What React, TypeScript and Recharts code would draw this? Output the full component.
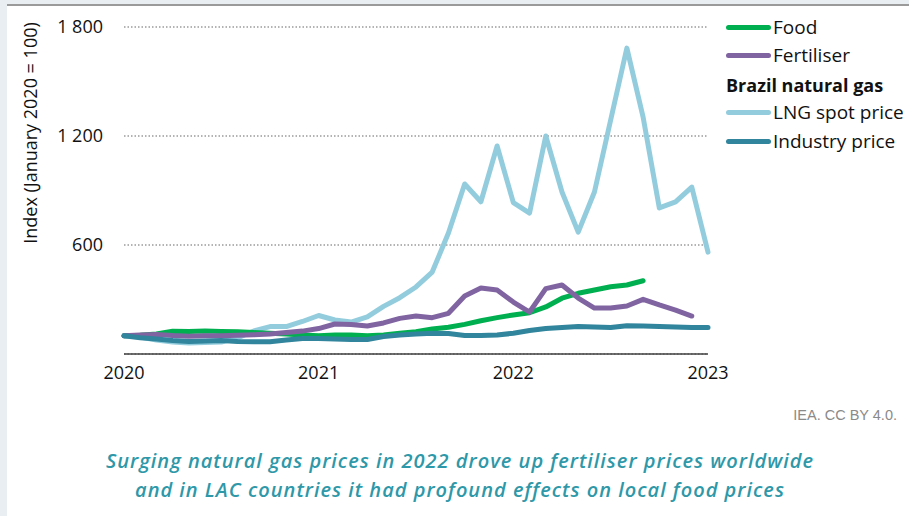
import { LineChart, Line, XAxis, YAxis, CartesianGrid } from 'recharts';

// Monthly index values, January 2020 = 100
const months = [
  '2020-01', '2020-02', '2020-03', '2020-04', '2020-05', '2020-06', '2020-07', '2020-08', '2020-09', '2020-10', '2020-11', '2020-12',
  '2021-01', '2021-02', '2021-03', '2021-04', '2021-05', '2021-06', '2021-07', '2021-08', '2021-09', '2021-10', '2021-11', '2021-12',
  '2022-01', '2022-02', '2022-03', '2022-04', '2022-05', '2022-06', '2022-07', '2022-08', '2022-09', '2022-10', '2022-11', '2022-12',
  '2023-01',
];

const lngSpot = [100, 94, 77, 66, 60, 63, 66, 88, 127, 151, 151, 179, 212, 187, 176, 204, 262, 310, 369, 451, 666, 936, 838, 1145, 833, 776, 1200, 892, 671, 892, 1288, 1684, 1304, 804, 837, 919, 561];
const food = [100, 103, 110, 125, 124, 126, 124, 122, 118, 114, 110, 104, 100, 104, 105, 100, 105, 114, 123, 138, 147, 163, 183, 200, 215, 227, 259, 307, 334, 352, 370, 380, 403, null, null, null, null];
const fertiliser = [100, 105, 108, 102, 98, 100, 101, 103, 106, 110, 118, 126, 140, 165, 162, 154, 171, 196, 209, 200, 224, 319, 363, 352, 286, 231, 360, 380, 308, 253, 253, 264, 301, 270, 242, 209, null];
const industry = [100, 90, 82, 74, 69, 72, 74, 69, 68, 68, 77, 85, 85, 83, 80, 80, 96, 105, 110, 114, 113, 102, 102, 105, 114, 129, 140, 146, 151, 149, 146, 156, 154, 151, 149, 146, 146];

const yTicks = [600, 1200, 1800];
const xTicks = ['2020-01', '2021-01', '2022-01', '2023-01'];

const colors = {
  food: '#00b050',
  fertiliser: '#8064a2',
  lng: '#93cddd',
  industry: '#31859c',
};

const data = months.map((m, i) => ({
  month: m,
  lng: lngSpot[i],
  food: food[i],
  fertiliser: fertiliser[i],
  industry: industry[i],
}));

const font = '"Open Sans", sans-serif';

function LegendRow({ color, label, top }: { color: string; label: string; top: number }) {
  return (
    <div style={{ position: 'absolute', left: 726, top, display: 'flex', alignItems: 'center', height: 24 }}>
      <div style={{ width: 45, height: 5, borderRadius: 3, background: color }} />
      <span style={{ marginLeft: 2, fontSize: 19, color: '#111' }}>{label}</span>
    </div>
  );
}

export default function App() {
  return (
    <div style={{ position: 'absolute', left: 0, top: 0, width: 909, height: 516, background: '#fff', fontFamily: font, overflow: 'hidden' }}>
      <div style={{ position: 'absolute', left: 0, top: 0, width: 909, height: 4, background: '#e9eef3' }} />
      <div style={{ position: 'absolute', left: 7, top: 4, width: 902, height: 2, background: '#9a9a9a' }} />
      <div style={{ position: 'absolute', left: 0, top: 0, width: 7, height: 516, background: '#e9eef3' }} />

      <div style={{ position: 'absolute', left: 0, top: 0 }}>
        <LineChart width={909} height={400} data={data} margin={{ top: 27, right: 201, left: 0, bottom: 16 }}>
          <CartesianGrid vertical={false} stroke="#9a9a9a" strokeWidth={1.5} strokeDasharray="1.5 2" />
          <XAxis
            dataKey="month"
            ticks={xTicks}
            interval={0}
            tickFormatter={(v: string) => v.slice(0, 4)}
            tickLine={false}
            tickSize={0}
            tickMargin={12}
            height={30}
            axisLine={{ stroke: '#404040', strokeWidth: 1.5 }}
            tick={{ fontSize: 18, fill: '#111', fontFamily: font }}
          />
          <YAxis
            domain={[0, 1800]}
            ticks={yTicks}
            width={124}
            tickFormatter={(v: number) => v.toLocaleString('en-US').replace(',', ' ')}
            axisLine={false}
            tickLine={false}
            tickSize={0}
            tickMargin={21}
            tick={{ fontSize: 18, fill: '#111', fontFamily: font }}
          />
          <Line type="linear" dataKey="lng" stroke={colors.lng} strokeWidth={5} dot={false} strokeLinejoin="round" strokeLinecap="round" isAnimationActive={false} />
          <Line type="linear" dataKey="food" stroke={colors.food} strokeWidth={5} dot={false} strokeLinejoin="round" strokeLinecap="round" isAnimationActive={false} />
          <Line type="linear" dataKey="fertiliser" stroke={colors.fertiliser} strokeWidth={5} dot={false} strokeLinejoin="round" strokeLinecap="round" isAnimationActive={false} />
          <Line type="linear" dataKey="industry" stroke={colors.industry} strokeWidth={5} dot={false} strokeLinejoin="round" strokeLinecap="round" isAnimationActive={false} />
        </LineChart>
      </div>

      <div
        style={{
          position: 'absolute', left: 30, top: 133, transform: 'translate(-50%, -50%) rotate(-90deg)',
          whiteSpace: 'nowrap', fontSize: 18, color: '#111',
        }}
      >
        Index (January 2020 = 100)
      </div>

      <LegendRow color={colors.food} label="Food" top={15} />
      <LegendRow color={colors.fertiliser} label="Fertiliser" top={43} />
      <div style={{ position: 'absolute', left: 726, top: 73, fontSize: 18, fontWeight: 700, color: '#111' }}>Brazil natural gas</div>
      <LegendRow color={colors.lng} label="LNG spot price" top={100} />
      <LegendRow color={colors.industry} label="Industry price" top={129} />

      <div style={{ position: 'absolute', right: 12, top: 407, fontSize: 14.5, color: '#8a8a8a', fontFamily: '"Liberation Sans Narrow", "Liberation Sans", sans-serif' }}>
        IEA. CC BY 4.0.
      </div>

      <div
        style={{
          position: 'absolute', left: 0, top: 446, width: 920, textAlign: 'center',
          fontSize: 20, lineHeight: '29px', fontStyle: 'italic', fontWeight: 600, color: '#2e98a8', letterSpacing: 1,
        }}
      >
        Surging natural gas prices in 2022 drove up fertiliser prices worldwide
        <br />
        and in LAC countries it had profound effects on local food prices
      </div>
    </div>
  );
}
